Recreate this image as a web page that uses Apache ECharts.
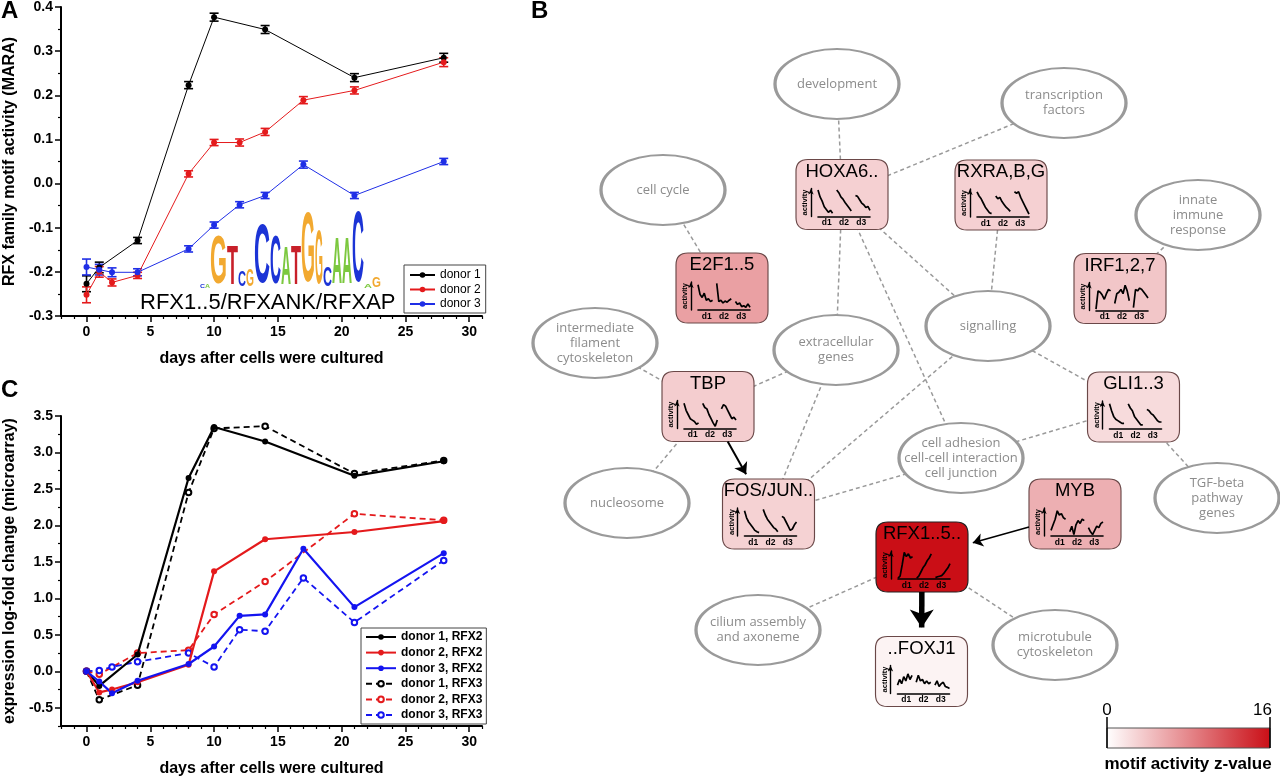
<!DOCTYPE html>
<html>
<head>
<meta charset="utf-8">
<title>RFX motif activity</title>
<script src="https://cdn.jsdelivr.net/npm/echarts@6.0.0/dist/echarts.min.js"></script>
<style>
  html, body { margin: 0; padding: 0; background: #fff; }
  #chart { width: 1280px; height: 780px; }
</style>
</head>
<body>
<div id="chart"></div>
<script>
// ---- panel A: RFX family motif activity (MARA), mean and error ----
const daysA1 = [0, 1, 4, 8, 10, 14, 21, 28];
const daysA23 = [0, 1, 2, 4, 8, 10, 12, 14, 17, 21, 28];
const maraDonor1 = [-0.227, -0.19, -0.129, 0.223, 0.377, 0.349, 0.24, 0.285];
const maraDonor2 = [-0.252, -0.2, -0.224, -0.208, 0.022, 0.093, 0.093, 0.117, 0.189, 0.211, 0.275];
const maraDonor3 = [-0.189, -0.195, -0.201, -0.201, -0.148, -0.094, -0.048, -0.027, 0.043, -0.027, 0.05];
const errDonor1 = [0.018, 0.012, 0.007, 0.008, 0.009, 0.009, 0.009, 0.010];
const errDonor2 = [0.018, 0.012, 0.008, 0.007, 0.007, 0.007, 0.008, 0.008, 0.008, 0.008, 0.010];
const errDonor3 = [0.018, 0.012, 0.010, 0.008, 0.007, 0.007, 0.007, 0.007, 0.008, 0.007, 0.007];

// ---- panel C: expression log-fold change (microarray) ----
const daysC1 = [0, 1, 4, 8, 10, 14, 21, 28];
const daysC2 = [0, 1, 2, 4, 8, 10, 14, 21, 28];
const daysC2b = [0, 1, 4, 8, 10, 14, 21, 28];
const daysC3 = [0, 1, 2, 4, 8, 10, 12, 14, 17, 21, 28];
const rfx2Donor1 = [0, -0.2, 0.23, 2.65, 3.35, 3.15, 2.68, 2.88];
const rfx3Donor1 = [0, -0.39, -0.19, 2.45, 3.33, 3.36, 2.71, 2.89];
const rfx2Donor2 = [0, -0.29, -0.25, -0.15, 0.09, 1.37, 1.81, 1.91, 2.06];
const rfx3Donor2 = [0, -0.04, 0.25, 0.29, 0.78, 1.23, 2.16, 2.07];
const rfx2Donor3 = [0, -0.14, -0.3, -0.13, 0.1, 0.34, 0.76, 0.78, 1.68, 0.88, 1.62];
const rfx3Donor3 = [0, 0.01, 0.06, 0.13, 0.25, 0.06, 0.57, 0.55, 1.28, 0.67, 1.52];

const majorX = [0, 5, 10, 15, 20, 25, 30];
const minorX = [-2, -1, 1, 2, 3, 4, 6, 7, 8, 9, 11, 12, 13, 14, 16, 17, 18, 19, 21, 22, 23, 24, 26, 27, 28, 29, 31];
const majorYC = [-0.5, 0, 0.5, 1, 1.5, 2, 2.5, 3, 3.5];
const minorYC = [-0.75, -0.25, 0.25, 0.75, 1.25, 1.75, 2.25, 2.75, 3.25];

// ---- panel B: motif network ----
const tfNames = ['HOXA6..', 'E2F1..5', 'RXRA,B,G', 'IRF1,2,7', 'TBP', 'GLI1..3', 'FOS/JUN..', 'MYB', 'RFX1..5..', '..FOXJ1'];
const tfX = [842, 722, 1001, 1120, 708, 1133.5, 768.5, 1075, 922, 921.5];
const tfY = [194.5, 288, 195, 288.5, 406.5, 407, 514, 514, 557, 671.5];
const tfZ = [3.1, 6.3, 3.1, 3.8, 3.3, 2.4, 3.0, 5.3, 16, 0.8];
const tfTraces = [
  [9.5, 7, 5.5, 3.5, 2.5, 1.5, 2.2, 1.2, null, 9.5, 8.5, 7, 6.2, 5, 4, 3, 2, null, 7.5, 7.2, 6, 4.8, 4.2, 3.2, 3.6, 2.2],
  [9, 5.5, 4.5, 6, 3.5, 4, 3, 3.5, null, 9.5, 3, 3.5, 2.5, 3.2, 2.8, 3.5, 4, null, 3, 2, 2.5, 1.2, 1.5, 1, 2.2, 1],
  [9, 7.5, 6.5, 5, 3.5, 2.5, 1.5, 1.2, null, 7.5, 6.5, 7, 5.5, 4.5, 3.5, 2.8, 2, null, 9, 8.5, 9, 7, 5.5, 4, 2.5, 1],
  [0.5, 7, 6.5, 5.5, 4, 6, 7.5, 7, null, 2.5, 6, 6.5, 7.5, 6, 9, 7, 3.5, null, 1, 7.5, 7, 8, 7.5, 6.5, 5.5, 4.5],
  [9, 6.5, 5, 3.5, 3, 2.5, 1.5, 2, null, 9, 7.5, 7, 5, 3.5, 2, 0.8, 3, null, 7, 8.5, 8, 6.5, 5, 3.5, 4, 3],
  [9, 6.5, 4.5, 3.5, 3, 2.5, 2, 2, null, 9, 7.5, 6.5, 4.5, 3.5, 2.5, 1.5, 1.5, null, 7, 6.5, 5.5, 5, 4, 3, 2.5, 2.5],
  [9, 6.5, 5, 4, 3, 2, 1.5, 1.2, null, 9.5, 7.5, 6, 5, 4, 3, 2.5, 1.5, null, 7, 6.5, 5, 3.5, 2, 2.5, 4, 5],
  [2, 4, 6, 9, 7.5, 8, 6.5, 6, null, 1.5, 3.5, 0.5, 4, 5.5, 4.5, 6, 5.5, null, 3, 1.5, 0.5, 2, 3.5, 3, 4.5, 5],
  [0.3, 1, 5, 9.5, 8, 9, 7.5, 8, null, 0.3, 1, 2.5, 4, 5, 6.5, 7.5, 9, null, 0.5, 0.8, 1, 1.2, 2, 3, 4, 5.5],
  [3, 5, 3.5, 6, 4.5, 7, 5, 6.5, null, 4, 6.5, 4.5, 5, 3.5, 4.5, 3.5, 4, null, 3, 4.5, 2.5, 3.5, 4, 2.5, 2.2, 1.8]
];
const termNames = ['development', 'transcription\nfactors', 'cell cycle', 'innate\nimmune\nresponse',
  'intermediate\nfilament\ncytoskeleton', 'extracellular\ngenes', 'signalling', 'nucleosome',
  'cell adhesion\ncell-cell interaction\ncell junction', 'TGF-beta\npathway\ngenes',
  'cilium assembly\nand axoneme', 'microtubule\ncytoskeleton'];
const termX = [837, 1064, 663, 1198, 595, 836, 988, 627, 961, 1217, 758, 1055];
const termY = [84, 103, 190, 215, 343, 350, 326, 503, 458, 498, 630, 645];
// [tf index, term index]
const termLinks = [[0, 0], [0, 1], [1, 2], [0, 5], [0, 6], [0, 8], [2, 6], [3, 3], [4, 4], [4, 5], [4, 7],
  [6, 5], [6, 6], [6, 8], [5, 6], [5, 8], [5, 9], [8, 10], [8, 11]];
// [from tf, to tf]
const regArrows = [[4, 6], [7, 8], [8, 9]];

// sequence logo of the RFX motif
const logoLetters = ['C', 'A', 'G', 'T', 'C', 'G', 'C', 'C', 'A', 'T', 'G', 'G', 'C', 'A', 'A', 'C', 'A', 'G'];
const logoBits = [0.1, 0.1, 1.35, 1.1, 0.45, 0.48, 1.65, 1.38, 1.08, 1.1, 1.95, 1.52, 0.55, 1.28, 1.28, 2.0, 0.1, 0.28];

const Z_MAX = 16;
const BOX_W = 92, BOX_H = 70, ELL_W = 124, ELL_H = 70;
const ROUND_BOX = 'path://M12,0H80Q92,0 92,12V58Q92,70 80,70H12Q0,70 0,58V12Q0,0 12,0Z';
const ELLIPSE = 'path://M0,50A50,50 0 1,0 100,50A50,50 0 1,0 0,50Z';
const FONT = 'Liberation Sans, Arial, sans-serif';
const LOW_RGB = [255, 255, 255], HIGH_RGB = [202, 14, 22];

// colour scale of the z-value bar
function zColor(z) {
  const f = Math.max(0, Math.min(1, z / Z_MAX));
  return 'rgb(' + LOW_RGB.map((v, i) => Math.round(v + (HIGH_RGB[i] - v) * f)).join(',') + ')';
}

const chart = echarts.init(document.getElementById('chart'));

const axisLine = { show: true, onZero: false, lineStyle: { color: '#000', width: 2 } };
const tickLabel = { color: '#000', fontSize: 14, fontWeight: 'bold', fontFamily: FONT };
const axisName = { color: '#000', fontSize: 16, fontWeight: 'bold', fontFamily: FONT };

function xAxesFor(grid) {
  return [
    {
      gridIndex: grid, type: 'value', min: -2, max: 31, position: 'bottom',
      axisLine: axisLine,
      axisTick: { show: true, customValues: majorX, length: 6, lineStyle: { color: '#000', width: 1.5 } },
      axisLabel: Object.assign({ customValues: majorX, margin: 9 }, tickLabel),
      splitLine: { show: false },
      name: 'days after cells were cultured', nameLocation: 'middle', nameGap: 35, nameTextStyle: axisName
    },
    {
      gridIndex: grid, type: 'value', min: -2, max: 31, position: 'bottom',
      axisLine: { show: false, onZero: false },
      axisTick: { show: true, customValues: minorX, length: 3, lineStyle: { color: '#000', width: 1.2 } },
      axisLabel: { show: false }, splitLine: { show: false }
    }
  ];
}

// error bars for panel A
function errorBars(days, vals, errs, color) {
  return {
    type: 'custom', xAxisIndex: 0, yAxisIndex: 0, z: 3, silent: true,
    encode: { x: 0, y: [1, 2] },
    data: days.map((d, i) => [d, vals[i] - errs[i], vals[i] + errs[i]]),
    renderItem: function (params, api) {
      const lo = api.coord([api.value(0), api.value(1)]);
      const hi = api.coord([api.value(0), api.value(2)]);
      const w = 4.5;
      const style = { stroke: color, lineWidth: 1.6, fill: null };
      return {
        type: 'group', children: [
          { type: 'line', shape: { x1: lo[0], y1: lo[1], x2: hi[0], y2: hi[1] }, style: style },
          { type: 'line', shape: { x1: lo[0] - w, y1: lo[1], x2: lo[0] + w, y2: lo[1] }, style: style },
          { type: 'line', shape: { x1: hi[0] - w, y1: hi[1], x2: hi[0] + w, y2: hi[1] }, style: style }
        ]
      };
    }
  };
}

function lineA(name, days, vals, color) {
  return {
    name: name, type: 'line', xAxisIndex: 0, yAxisIndex: 0, z: 4,
    data: days.map((d, i) => [d, vals[i]]),
    symbol: 'circle', symbolSize: 6, color: color,
    lineStyle: { width: 1, color: color }, itemStyle: { color: color }
  };
}

function lineC(name, days, vals, color, dashed) {
  return {
    name: name, type: 'line', xAxisIndex: 2, yAxisIndex: 1, z: dashed ? 3 : 4,
    data: days.map((d, i) => [d, vals[i]]),
    symbol: dashed ? 'emptyCircle' : 'circle', symbolSize: dashed ? 5.5 : 6, color: color,
    lineStyle: { width: dashed ? 1.8 : 2.2, color: color, type: dashed ? [6, 4] : 'solid' },
    itemStyle: { color: color, borderWidth: dashed ? 0.8 : 0 }
  };
}

// point where the segment from `from` enters the box centred on `to`
function boxEdge(from, to) {
  const dx = from[0] - to[0], dy = from[1] - to[1];
  const t = Math.min(BOX_W / 2 / Math.max(Math.abs(dx), 1e-6), BOX_H / 2 / Math.max(Math.abs(dy), 1e-6));
  return [to[0] + dx * t, to[1] + dy * t];
}

// ---- grids ----
const grids = [
  { left: 61, top: 6, width: 421, height: 310 },
  { left: 61, top: 416, width: 421, height: 310 },
  { left: 0, top: 0, width: 1280, height: 780 }
];
const xAxes = xAxesFor(0).concat(xAxesFor(1));
xAxes.push({ gridIndex: 2, type: 'value', min: 0, max: 1280, show: false });
const yAxes = [
  {
    gridIndex: 0, type: 'value', min: -0.3, max: 0.4, interval: 0.1, position: 'left',
    axisLine: axisLine,
    axisTick: { length: 6, lineStyle: { color: '#000', width: 1.5 } },
    minorTick: { show: true, splitNumber: 2, length: 3, lineStyle: { color: '#000', width: 1.2 } },
    axisLabel: Object.assign({ margin: 8, formatter: v => v.toFixed(1) }, tickLabel),
    splitLine: { show: false }, minorSplitLine: { show: false },
    name: 'RFX family motif activity (MARA)', nameLocation: 'middle', nameGap: 43, nameTextStyle: axisName
  },
  {
    gridIndex: 1, type: 'value', min: -0.75, max: 3.5, position: 'left',
    axisLine: axisLine,
    axisTick: { show: true, customValues: majorYC, length: 6, lineStyle: { color: '#000', width: 1.5 } },
    axisLabel: Object.assign({ customValues: majorYC, margin: 8, formatter: v => v.toFixed(1) }, tickLabel),
    splitLine: { show: false },
    name: 'expression log-fold change (microarray)', nameLocation: 'middle', nameGap: 43, nameTextStyle: axisName
  },
  {
    gridIndex: 1, type: 'value', min: -0.75, max: 3.5, position: 'left',
    axisLine: { show: false, onZero: false },
    axisTick: { show: true, customValues: minorYC, length: 3, lineStyle: { color: '#000', width: 1.2 } },
    axisLabel: { show: false }, splitLine: { show: false }
  },
  { gridIndex: 2, type: 'value', min: 0, max: 780, inverse: true, show: false }
];

const series = [
  lineA('donor 1', daysA1, maraDonor1, '#000000'),
  lineA('donor 2', daysA23, maraDonor2, '#e41a1c'),
  lineA('donor 3', daysA23, maraDonor3, '#1f2ee6'),
  errorBars(daysA1, maraDonor1, errDonor1, '#000000'),
  errorBars(daysA23, maraDonor2, errDonor2, '#e41a1c'),
  errorBars(daysA23, maraDonor3, errDonor3, '#1f2ee6'),
  lineC('donor 1, RFX2', daysC1, rfx2Donor1, '#000000', false),
  lineC('donor 2, RFX2', daysC2, rfx2Donor2, '#e41a1c', false),
  lineC('donor 3, RFX2', daysC3, rfx2Donor3, '#1414f0', false),
  lineC('donor 1, RFX3', daysC1, rfx3Donor1, '#000000', true),
  lineC('donor 2, RFX3', daysC2b, rfx3Donor2, '#e41a1c', true),
  lineC('donor 3, RFX3', daysC3, rfx3Donor3, '#1414f0', true)
];

// network graph
const nodes = [];
tfNames.forEach((n, i) => nodes.push({
  name: n, value: [tfX[i], tfY[i]],
  symbol: ROUND_BOX, symbolSize: [BOX_W, BOX_H],
  itemStyle: { color: zColor(tfZ[i]), borderColor: i === 8 ? '#222' : '#6a4848', borderWidth: 1, opacity: 1 },
  label: { show: true, position: 'insideTop', distance: 3, fontSize: 18.5, color: '#000', fontFamily: FONT }
}));
termNames.forEach((n, i) => nodes.push({
  name: n, value: [termX[i], termY[i]],
  symbol: ELLIPSE, symbolSize: [ELL_W, ELL_H],
  itemStyle: { color: '#ffffff', borderColor: '#9a9a9a', borderWidth: 2.5, opacity: 1 },
  label: { show: true, position: 'inside', fontSize: 13, lineHeight: 15, color: '#8c8c8c', fontFamily: 'Open Sans' }
}));
series.push({
  type: 'graph', coordinateSystem: 'cartesian2d', xAxisIndex: 4, yAxisIndex: 3,
  z: 1, silent: true, data: nodes,
  links: termLinks.map(p => ({ source: tfNames[p[0]], target: termNames[p[1]] })),
  lineStyle: { color: '#9a9a9a', width: 1.5, type: [4, 3], opacity: 1, curveness: 0 }
});

// regulatory arrows between motifs
const arrowWidths = [2, 1.5, 5.5];
const arrowSizes = [11, 10, 18];
regArrows.forEach((a, k) => {
  const p = [tfX[a[0]], tfY[a[0]]], q = [tfX[a[1]], tfY[a[1]]];
  const start = boxEdge(q, p);
  const tip = boxEdge(p, q);
  const len = Math.hypot(tip[0] - p[0], tip[1] - p[1]);
  const ux = (tip[0] - p[0]) / len, uy = (tip[1] - p[1]) / len;
  const end = [tip[0] - ux * arrowSizes[k] / 2, tip[1] - uy * arrowSizes[k] / 2];
  series.push({
    type: 'lines', coordinateSystem: 'cartesian2d', xAxisIndex: 4, yAxisIndex: 3, z: 4, silent: true,
    symbol: ['none', 'arrow'], symbolSize: arrowSizes[k],
    lineStyle: { color: '#000', width: arrowWidths[k], opacity: 1 },
    data: [{ coords: [start, end] }]
  });
});

// activity sparklines inside each motif box
tfNames.forEach((n, i) => {
  const L = tfX[i] - BOX_W / 2, T = tfY[i] - BOX_H / 2;
  const g = grids.length;
  grids.push({ left: L + 22, top: T + 29, width: 52, height: 28 });
  const xv = xAxes.length;
  xAxes.push({ gridIndex: g, type: 'value', min: 0, max: tfTraces[i].length - 1, show: false });
  xAxes.push({
    gridIndex: g, type: 'category', data: ['d1', 'd2', 'd3'], position: 'bottom', z: 6,
    axisLine: { show: true, onZero: false, lineStyle: { color: '#000', width: 1.6 } },
    axisTick: { show: false },
    axisLabel: { fontSize: 8.5, fontWeight: 'bold', color: '#000', margin: 2, fontFamily: FONT }
  });
  const yv = yAxes.length;
  yAxes.push({
    gridIndex: g, type: 'value', min: 0, max: 10, offset: 7, z: 6,
    axisLine: { show: true, onZero: false, symbol: ['none', 'arrow'], symbolSize: [4, 6], lineStyle: { color: '#000', width: 1.4 } },
    axisTick: { show: false }, axisLabel: { show: false }, splitLine: { show: false },
    name: 'activity', nameLocation: 'middle', nameGap: 2, nameRotate: 90,
    nameTextStyle: { fontSize: 7.5, fontWeight: 'bold', color: '#000', fontFamily: FONT }
  });
  series.push({
    type: 'line', xAxisIndex: xv, yAxisIndex: yv, z: 6, silent: true,
    data: tfTraces[i].map((v, k) => [k, v]),
    showSymbol: false, connectNulls: false,
    lineStyle: { color: '#000', width: 1.7 }
  });
});

// sequence logo letters
const logoColors = { A: '#7cc83f', C: '#1c34d6', G: '#f2a930', T: '#c8202a' };
const logoAdvance = { A: 0.722, C: 0.722, G: 0.778, T: 0.611 };
const logoWidths = [5, 5, 17, 11, 8, 8, 16, 11, 10, 10, 14, 8, 9, 10, 10, 12, 8, 9];
const logoGraphics = [];
let lx = 200;
logoLetters.forEach((l, i) => {
  const h = logoBits[i] * 36;
  const sy = h / 71.6, sx = logoWidths[i] / (logoAdvance[l] * 100);
  logoGraphics.push({
    type: 'text', x: lx, y: 288 - 84.6 * sy, scaleX: sx, scaleY: sy, originX: 0, originY: 0, silent: true,
    style: { text: l, x: 0, y: 0, font: 'bold 100px ' + FONT, fill: logoColors[l], verticalAlign: 'top', align: 'left' }
  });
  lx += logoWidths[i];
});

// z-value colour bar
const barStops = [0, 0.25, 0.5, 0.75, 1].map(f => ({ offset: f, color: zColor(f * Z_MAX) }));

chart.setOption({
  animation: false,
  textStyle: { fontFamily: FONT },
  grid: grids,
  xAxis: xAxes,
  yAxis: yAxes,
  legend: [
    {
      data: ['donor 1', 'donor 2', 'donor 3'], left: 404, top: 265, orient: 'vertical',
      itemWidth: 25, itemHeight: 7, itemGap: 2.5, padding: [4, 5, 3, 5],
      borderColor: '#444', borderWidth: 1, backgroundColor: '#fff',
      textStyle: { fontSize: 12, color: '#000' }
    },
    {
      data: ['donor 1, RFX2', 'donor 2, RFX2', 'donor 3, RFX2', 'donor 1, RFX3', 'donor 2, RFX3', 'donor 3, RFX3'],
      left: 361, top: 628, orient: 'vertical',
      itemWidth: 30, itemHeight: 7, itemGap: 3.6, padding: [3, 4, 3, 4],
      borderColor: '#444', borderWidth: 1, backgroundColor: '#fff',
      textStyle: { fontSize: 12, fontWeight: 'bold', color: '#000' }
    }
  ],
  graphic: [
    { type: 'text', x: 1, y: -1, silent: true, style: { text: 'A', font: 'bold 24px ' + FONT, fill: '#000', verticalAlign: 'top' } },
    { type: 'text', x: 531, y: -1, silent: true, style: { text: 'B', font: 'bold 24px ' + FONT, fill: '#000', verticalAlign: 'top' } },
    { type: 'text', x: 1, y: 378, silent: true, style: { text: 'C', font: 'bold 24px ' + FONT, fill: '#000', verticalAlign: 'top' } },
    { type: 'text', x: 140, y: 303, silent: true, z: 5, style: { text: 'RFX1..5/RFXANK/RFXAP', font: '22px ' + FONT, fill: '#000', verticalAlign: 'middle' } },
    { type: 'group', silent: true, z: 4, children: logoGraphics },
    {
      type: 'rect', silent: true, shape: { x: 1107, y: 728, width: 163, height: 20 },
      style: { fill: { type: 'linear', x: 0, y: 0, x2: 1, y2: 0, colorStops: barStops }, stroke: '#555', lineWidth: 1 }
    },
    { type: 'line', silent: true, shape: { x1: 1107, y1: 717, x2: 1107, y2: 748 }, style: { stroke: '#000', lineWidth: 1.5 } },
    { type: 'line', silent: true, shape: { x1: 1270, y1: 717, x2: 1270, y2: 748 }, style: { stroke: '#000', lineWidth: 1.5 } },
    { type: 'text', x: 1107, y: 710, silent: true, style: { text: '0', font: '17px ' + FONT, fill: '#000', align: 'center', verticalAlign: 'middle' } },
    { type: 'text', x: 1272, y: 710, silent: true, style: { text: '16', font: '17px ' + FONT, fill: '#000', align: 'right', verticalAlign: 'middle' } },
    { type: 'text', x: 1188, y: 764, silent: true, style: { text: 'motif activity z-value', font: 'bold 17px ' + FONT, fill: '#000', align: 'center', verticalAlign: 'middle' } }
  ],
  series: series
});
</script>
</body>
</html>
